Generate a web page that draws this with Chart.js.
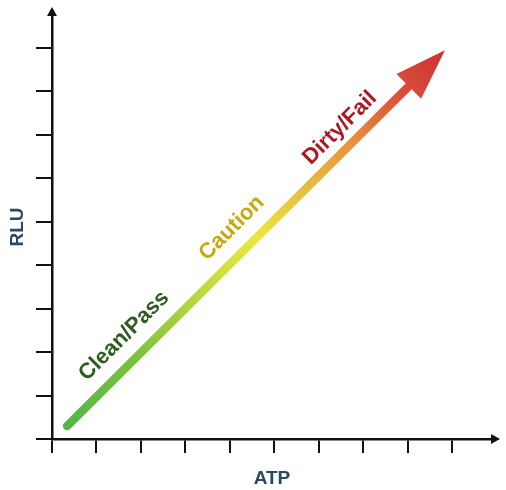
<!DOCTYPE html>
<html>
<head>
<meta charset="utf-8">
<script src="https://cdn.jsdelivr.net/npm/chart.js@4/dist/chart.umd.min.js"></script>
<style>
  html, body { margin: 0; padding: 0; background: #fff; }
  canvas { display: block; }
</style>
</head>
<body>
<canvas id="atpChart" width="506" height="490"></canvas>
<script>
// axis ticks (no labels, just marks)
const xTickValues = [0, 1, 2, 3, 4, 5, 6, 7, 8, 9];
const yTickValues = [0, 1, 2, 3, 4, 5, 6, 7, 8, 9];

// the trend arrow: start of shaft and base of the head
const arrowX = [0.34, 8.02];
const arrowY = [0.30, 8.11];

// zone labels along the arrow
const zoneLabels = ['Clean/Pass', 'Caution', 'Dirty/Fail'];
const zoneX = [1.62, 4.04, 6.47];
const zoneY = [2.37, 4.85, 7.15];
const zoneColors = ['#2f5c20', '#c9a70f', '#b0161f'];

const titleColor = '#2b4964';
const axisColor = '#111111';
const fontFamily = '"Liberation Sans", Arial, sans-serif';

function arrowGradient(chart) {
  const { ctx, scales } = chart;
  const x0 = scales.x.getPixelForValue(arrowX[0]);
  const y0 = scales.y.getPixelForValue(arrowY[0]);
  const x1 = scales.x.getPixelForValue(arrowX[1]);
  const y1 = scales.y.getPixelForValue(arrowY[1]);
  // extend to the tip of the head
  const len = Math.hypot(x1 - x0, y1 - y0);
  const ux = (x1 - x0) / len, uy = (y1 - y0) / len;
  const g = ctx.createLinearGradient(x0, y0, x1 + ux * 51, y1 + uy * 51);
  g.addColorStop(0, '#58b34a');
  g.addColorStop(0.18, '#7ac240');
  g.addColorStop(0.38, '#c4de3c');
  g.addColorStop(0.5, '#ebe73f');
  g.addColorStop(0.62, '#e6c23d');
  g.addColorStop(0.75, '#e5953c');
  g.addColorStop(0.87, '#db543a');
  g.addColorStop(1, '#cc3034');
  return g;
}

const decorations = {
  id: 'decorations',
  afterDatasetsDraw(chart) {
    const { ctx, scales } = chart;
    const meta = chart.getDatasetMeta(0);
    const p0 = meta.data[0], p1 = meta.data[1];
    const len = Math.hypot(p1.x - p0.x, p1.y - p0.y);
    const ux = (p1.x - p0.x) / len, uy = (p1.y - p0.y) / len;
    const headLen = 51, halfW = 17.5;

    // arrow head
    ctx.save();
    ctx.fillStyle = arrowGradient(chart);
    ctx.beginPath();
    ctx.moveTo(p1.x + ux * headLen, p1.y + uy * headLen);
    ctx.lineTo(p1.x - uy * halfW, p1.y + ux * halfW);
    ctx.lineTo(p1.x + uy * halfW, p1.y - ux * halfW);
    ctx.closePath();
    ctx.fill();
    ctx.restore();

    // zone labels, rotated along the arrow
    const angle = Math.atan2(uy, ux);
    ctx.save();
    ctx.font = 'bold 22px ' + fontFamily;
    ctx.textAlign = 'center';
    ctx.textBaseline = 'middle';
    zoneLabels.forEach((txt, i) => {
      const px = scales.x.getPixelForValue(zoneX[i]);
      const py = scales.y.getPixelForValue(zoneY[i]);
      ctx.save();
      ctx.translate(px, py);
      ctx.rotate(angle);
      ctx.fillStyle = zoneColors[i];
      ctx.fillText(txt, 0, 0);
      ctx.restore();
    });
    ctx.restore();
  },
  afterDraw(chart) {
    const { ctx, chartArea } = chart;
    ctx.save();
    ctx.fillStyle = axisColor;
    // y axis arrow head
    ctx.beginPath();
    ctx.moveTo(chartArea.left, chartArea.top - 8);
    ctx.lineTo(chartArea.left - 5, chartArea.top + 1);
    ctx.lineTo(chartArea.left + 5, chartArea.top + 1);
    ctx.closePath();
    ctx.fill();
    // x axis arrow head
    ctx.beginPath();
    ctx.moveTo(chartArea.right + 8, chartArea.bottom);
    ctx.lineTo(chartArea.right - 1, chartArea.bottom - 5);
    ctx.lineTo(chartArea.right - 1, chartArea.bottom + 5);
    ctx.closePath();
    ctx.fill();
    ctx.restore();
  }
};

new Chart(document.getElementById('atpChart'), {
  type: 'scatter',
  data: {
    datasets: [{
      data: arrowX.map((x, i) => ({ x: x, y: arrowY[i] })),
      showLine: true,
      pointRadius: 0,
      borderWidth: 8.5,
      borderCapStyle: 'round',
      borderColor: (c) => c.chart.chartArea ? arrowGradient(c.chart) : '#8c8'
    }]
  },
  options: {
    responsive: false,
    animation: false,
    layout: { padding: { top: 15, right: 14, left: 0, bottom: 0 } },
    plugins: {
      legend: { display: false },
      tooltip: { enabled: false }
    },
    scales: {
      x: {
        type: 'linear',
        min: 0,
        max: 9.89,
        afterBuildTicks: (s) => { s.ticks = xTickValues.map(v => ({ value: v })); },
        afterFit: (s) => { s.height = 51; },
        ticks: { display: false, includeBounds: false },
        grid: { drawOnChartArea: false, drawTicks: true, tickLength: 14, color: axisColor, lineWidth: 2 },
        border: { display: true, color: axisColor, width: 2.5 },
        title: {
          display: true,
          text: 'ATP',
          color: titleColor,
          font: { family: fontFamily, size: 19, weight: 'bold' },
          padding: { top: 0, bottom: 0 }
        }
      },
      y: {
        type: 'linear',
        min: 0,
        max: 9.75,
        afterBuildTicks: (s) => { s.ticks = yTickValues.map(v => ({ value: v })); },
        afterFit: (s) => { s.width = 52; },
        ticks: { display: false, includeBounds: false },
        grid: { drawOnChartArea: false, drawTicks: true, tickLength: 16, color: axisColor, lineWidth: 2 },
        border: { display: true, color: axisColor, width: 2.5 },
        title: {
          display: true,
          text: 'RLU',
          color: titleColor,
          font: { family: fontFamily, size: 19, weight: 'bold' },
          padding: { top: 6, bottom: 0 }
        }
      }
    }
  },
  plugins: [decorations]
});
</script>
</body>
</html>
